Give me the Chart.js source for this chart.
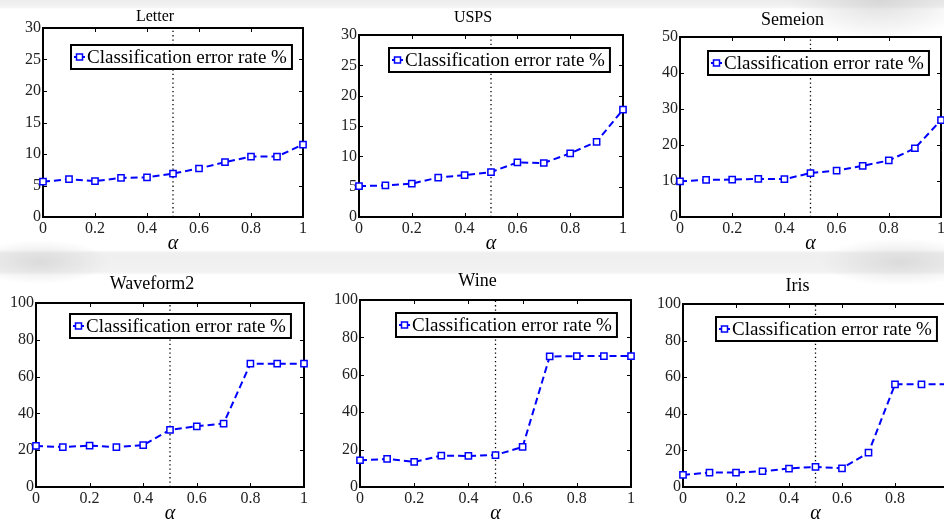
<!DOCTYPE html>
<html><head><meta charset="utf-8">
<script src="https://cdn.jsdelivr.net/npm/chart.js@4.4.0/dist/chart.umd.min.js"></script>
<style>
html,body{margin:0;padding:0;width:944px;height:520px;overflow:hidden;background:#fff;}
#bg{position:absolute;left:0;top:0;width:944px;height:520px;
 background:
  radial-gradient(ellipse 90px 40px at 880px 0px, rgba(200,200,200,0.6), rgba(255,255,255,0) 100%),
  radial-gradient(ellipse 70px 22px at 40px 262px, rgba(205,205,205,0.6), rgba(255,255,255,0) 100%),
  radial-gradient(ellipse 80px 24px at 900px 262px, rgba(205,205,205,0.6), rgba(255,255,255,0) 100%),
  linear-gradient(to bottom,#ececec 0px,#f3f3f3 7px,#fff 9px,#fff 250px,#efefef 253px,#f2f2f2 272px,#fff 275px,#fff 520px);}
canvas{position:absolute;}
</style></head><body>
<div id="bg"></div>
<script>
// ---- data ----
const alpha = [0, 0.1, 0.2, 0.3, 0.4, 0.5, 0.6, 0.7, 0.8, 0.9, 1];
const letterErr    = [5.6, 6.0, 5.7, 6.2, 6.3, 6.9, 7.7, 8.7, 9.6, 9.6, 11.5];
const uspsErr      = [5.1, 5.2, 5.5, 6.5, 6.9, 7.4, 9.0, 8.9, 10.5, 12.4, 17.7];
const semeionErr   = [9.9, 10.3, 10.4, 10.6, 10.5, 12.2, 12.9, 14.2, 15.7, 19.1, 26.9];
const waveform2Err = [22.3, 21.7, 22.5, 21.7, 22.8, 31.0, 33.0, 34.5, 67.0, 67.0, 67.0];
const wineErr      = [14.3, 15.0, 13.4, 16.8, 16.6, 17.1, 21.4, 69.8, 70.0, 70.0, 70.0];
const irisErr      = [6.6, 7.9, 7.9, 8.6, 10.1, 11.0, 10.2, 18.8, 56.1, 56.1, 56.1];
const xTicks   = [0, 0.2, 0.4, 0.6, 0.8, 1];
const yTicks30  = [0, 5, 10, 15, 20, 25, 30];
const yTicks50  = [0, 10, 20, 30, 40, 50];
const yTicks100 = [0, 20, 40, 60, 80, 100];
const dividerAlpha = 0.5;
const seriesLabel = 'Classification error rate %';
const xTitle = 'α';

// ---- layout (plot rectangles in page px) ----
const panels = [
  {title:'Letter',    values:letterErr,    yTicks:yTicks30,  box:{l:43, t:28, r:303, b:217}, tSize:16, tGap:11, leg:{r:11, t:17}},
  {title:'USPS',      values:uspsErr,      yTicks:yTicks30,  box:{l:359,t:35, r:623, b:217}, tSize:16, tGap:17, leg:{r:13, t:13}},
  {title:'Semeion',   values:semeionErr,   yTicks:yTicks50,  box:{l:680,t:37, r:941, b:217}, tSize:18, tGap:17, leg:{r:12, t:14}},
  {title:'Waveform2', values:waveform2Err, yTicks:yTicks100, box:{l:36, t:303,r:304, b:487}, tSize:18, tGap:19, leg:{r:13, t:11}},
  {title:'Wine',      values:wineErr,      yTicks:yTicks100, box:{l:360,t:300,r:631, b:487}, tSize:18, tGap:19, leg:{r:14, t:13}},
  {title:'Iris',      values:irisErr,      yTicks:yTicks100, box:{l:683,t:304,r:948, b:487}, tSize:18, tGap:18, leg:{r:11, t:13}}
];

const FONT = '"Liberation Serif","Times New Roman",serif';
const PAD = {left:4, top:2, right:14, bottom:2};
const YW = 36, XH = 42, TLH = 20;
const BLUE = '#0000ff';

const framePlugin = {
  id:'frame',
  beforeDraw(chart){
    const {ctx, chartArea:a} = chart;
    ctx.save(); ctx.fillStyle='#fff';
    ctx.fillRect(a.left, a.top, a.right-a.left, a.bottom-a.top);
    ctx.restore();
  },
  beforeDatasetsDraw(chart){
    const {ctx, chartArea:a, scales:{x, y}} = chart;
    ctx.save();
    ctx.strokeStyle='#000'; ctx.lineWidth=1;
    ctx.beginPath();
    x.ticks.forEach(t => { const px = Math.round(x.getPixelForValue(t.value))+0.5;
      ctx.moveTo(px, a.bottom); ctx.lineTo(px, a.bottom-4);
      ctx.moveTo(px, a.top); ctx.lineTo(px, a.top+4); });
    y.ticks.forEach(t => { const py = Math.round(y.getPixelForValue(t.value))+0.5;
      ctx.moveTo(a.left, py); ctx.lineTo(a.left+4, py);
      ctx.moveTo(a.right, py); ctx.lineTo(a.right-4, py); });
    ctx.stroke();
    ctx.lineWidth=2;
    ctx.strokeRect(a.left, a.top, a.right-a.left, a.bottom-a.top);
    ctx.restore();
  },
  afterDatasetsDraw(chart, args, opts){
    const {ctx, chartArea:a} = chart;
    const label = chart.data.datasets[0].label;
    ctx.save();
    ctx.font = '19px ' + FONT;
    const tw = ctx.measureText(label).width;
    const h = 24, sample = 16, padR = 5;
    const w = sample + tw + padR;
    const x0 = Math.round(a.right - opts.inset.r - w), y0 = Math.round(a.top + opts.inset.t);
    ctx.fillStyle='#fff'; ctx.fillRect(x0, y0, w, h);
    ctx.lineWidth=2; ctx.strokeStyle='#000'; ctx.strokeRect(x0, y0, w, h);
    const cy = y0 + h/2;
    ctx.strokeStyle=BLUE; ctx.lineWidth=2;
    ctx.beginPath(); ctx.moveTo(x0+3, cy); ctx.lineTo(x0+14, cy); ctx.stroke();
    ctx.fillStyle='#fff'; ctx.lineWidth=1.5;
    ctx.fillRect(x0+5.5, cy-3, 6, 6); ctx.strokeRect(x0+5.5, cy-3, 6, 6);
    ctx.fillStyle='#000'; ctx.textBaseline='middle'; ctx.textAlign='left';
    ctx.fillText(label, x0+sample, cy+1);
    ctx.restore();
  }
};

panels.forEach(p => {
  const titleH = TLH + (p.tGap - TLH/2);
  const cv = document.createElement('canvas');
  const w = (p.box.r - p.box.l) + YW + PAD.left + PAD.right;
  const h = (p.box.b - p.box.t) + titleH + PAD.top + XH + PAD.bottom;
  cv.width = w; cv.height = h;
  cv.style.width = w+'px'; cv.style.height = h+'px';
  cv.style.left = (p.box.l - YW - PAD.left) + 'px';
  cv.style.top = (p.box.t - titleH - PAD.top) + 'px';
  document.body.appendChild(cv);
  const yMax = p.yTicks[p.yTicks.length-1];
  new Chart(cv, {
    type:'line',
    data:{datasets:[
      {label:seriesLabel, data:alpha.map((a,i)=>({x:a, y:p.values[i]})),
       borderColor:BLUE, borderWidth:2, borderDash:[7,4], fill:false, tension:0,
       pointStyle:'rect', pointRadius:4.4, pointBorderWidth:1.5,
       pointBorderColor:BLUE, pointBackgroundColor:'#fff', clip:false, order:1},
      {label:'divider', data:[{x:dividerAlpha, y:0},{x:dividerAlpha, y:yMax}],
       borderColor:'#000', borderWidth:1.3, borderDash:[1.3,3], pointRadius:0, fill:false, order:2}
    ]},
    options:{
      responsive:false, animation:false, devicePixelRatio:1,
      layout:{padding:PAD},
      events:[],
      plugins:{
        legend:{display:false}, tooltip:{enabled:false},
        title:{display:true, text:p.title, color:'#000',
          font:{family:FONT, size:p.tSize, weight:'normal', lineHeight:TLH+'px'},
          padding:{top:0, bottom:p.tGap - TLH/2}},
        frame:{inset:p.leg}
      },
      scales:{
        x:{type:'linear', min:0, max:1,
          afterBuildTicks:s=>{ s.ticks = xTicks.map(v=>({value:v})); },
          afterFit:s=>{ s.height = XH; s.paddingLeft=0; s.paddingRight=0; },
          grid:{display:false, drawTicks:false}, border:{display:false},
          ticks:{padding:2, color:'#222', font:{family:FONT, size:16}, maxRotation:0, autoSkip:false,
            callback:v=>String(v)},
          title:{display:true, text:xTitle, color:'#000',
            font:{family:FONT, size:20, style:'italic', lineHeight:'24px'}, padding:{top:0, bottom:3}}
        },
        y:{type:'linear', min:0, max:yMax,
          afterBuildTicks:s=>{ s.ticks = p.yTicks.map(v=>({value:v})); },
          afterFit:s=>{ s.width = YW; s.paddingTop=0; s.paddingBottom=0; },
          grid:{display:false, drawTicks:false}, border:{display:false},
          ticks:{padding:2, color:'#222', font:{family:FONT, size:16}, autoSkip:false,
            callback:v=>String(v)}
        }
      }
    },
    plugins:[framePlugin]
  });
});
</script>
</body></html>
